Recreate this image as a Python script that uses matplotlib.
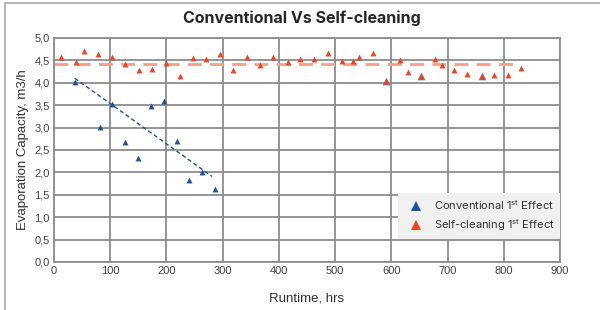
import numpy as np
import matplotlib.pyplot as plt
from matplotlib.patches import Rectangle
from matplotlib.lines import Line2D

# conventional 1st effect (runtime hrs, capacity m3/h)
conv_hrs = [37, 82, 104, 126, 149, 172, 195, 218, 241, 264, 286]
conv_cap = [4.01, 3.02, 3.53, 2.67, 2.31, 3.49, 3.59, 2.69, 1.84, 2.01, 1.62]
# trend line end points
conv_trend_hrs = [37, 281]
conv_trend_cap = [4.10, 1.91]

# self-cleaning 1st effect
sc_hrs = [13, 39, 54, 78, 103, 126, 151, 175, 199, 224, 247, 271, 295, 319,
          343, 367, 390, 416, 438, 463, 487, 512, 531, 543, 567, 591, 615,
          629, 653, 677, 691, 711, 735, 761, 782, 808, 831]
sc_cap = [4.58, 4.47, 4.70, 4.65, 4.58, 4.42, 4.29, 4.30, 4.45, 4.14, 4.55,
          4.52, 4.64, 4.29, 4.58, 4.40, 4.58, 4.46, 4.53, 4.52, 4.66, 4.49,
          4.48, 4.58, 4.67, 4.03, 4.50, 4.23, 4.14, 4.54, 4.40, 4.29, 4.20,
          4.14, 4.18, 4.18, 4.32]
sc_trend_hrs = [0, 823]
sc_trend_cap = [4.41, 4.41]
# points that sit on top of a grey marker in the original
sc_grey = [591, 653, 761]

x_ticks = list(range(0, 901, 100))
y_ticks = [0.0, 0.5, 1.0, 1.5, 2.0, 2.5, 3.0, 3.5, 4.0, 4.5, 5.0]

blue = '#21519c'
red = '#ea4325'
grid_c = '#8c8c8c'
txt_c = '#404040'

fig = plt.figure(figsize=(6, 3.1), dpi=100)
ax = fig.add_axes([0.09, 0.155, 0.8433, 0.7226])

# outer frame of the chart area
fig.patches.append(Rectangle((5 / 600, -0.1), 1.2, 1.1 - 3 / 310,
                             transform=fig.transFigure, fill=False,
                             edgecolor='#b0b0b0', linewidth=1.3))

ax.set_xlim(0, 900)
ax.set_ylim(0, 5)
ax.set_xticks(x_ticks)
ax.set_yticks(y_ticks)
ax.set_yticklabels([f"{v:.1f}".replace('.', ',') for v in y_ticks])
ax.grid(True, color=grid_c, linewidth=1.3)
ax.set_axisbelow(True)
for s in ax.spines.values():
    s.set_color(grid_c)
    s.set_linewidth(1.3)
ax.tick_params(length=0, pad=3, labelsize=8, labelcolor=txt_c)
for lab in ax.get_xticklabels() + ax.get_yticklabels():
    lab.set_family('Liberation Sans')

# trend lines
ax.plot(sc_trend_hrs, sc_trend_cap, color='#f2a08e',
        linewidth=2, dashes=(5, 3), zorder=2)
ax.plot(conv_trend_hrs, conv_trend_cap, color=blue, linewidth=1,
        dashes=(3, 2), zorder=2)

# markers
grey_idx = [sc_hrs.index(h) for h in sc_grey]
ax.scatter([sc_hrs[i] for i in grey_idx], [sc_cap[i] for i in grey_idx],
           marker='^', s=30, color='#707070', zorder=3, linewidths=0)
ax.scatter(sc_hrs, sc_cap, marker='^', s=18, color=red, zorder=4, linewidths=0)
ax.scatter(conv_hrs, conv_cap, marker='^', s=18, color=blue, zorder=4, linewidths=0)

ax.set_xlabel('Runtime, hrs', fontsize=9.5, family='Liberation Sans',
              color='#303030', labelpad=12)
ax.set_ylabel('Evaporation Capacity, m3/h', fontsize=9.5,
              family='Liberation Sans', color='#303030', labelpad=4)
fig.text(0.503, 0.94, 'Conventional Vs Self-cleaning', ha='center', va='center',
         fontsize=11.5, fontweight='bold', family='Inter', color='#262626')

handles = [Line2D([], [], linestyle='none', marker='^', markersize=6.5,
                  color=blue, markeredgewidth=0),
           Line2D([], [], linestyle='none', marker='^', markersize=6.5,
                  color=red, markeredgewidth=0)]
leg = ax.legend(handles,
                [r'Conventional 1$^{\mathregular{st}}$ Effect',
                 r'Self-cleaning 1$^{\mathregular{st}}$ Effect'],
                loc='lower right', bbox_to_anchor=(1.0, 0.103), frameon=True,
                fancybox=False, framealpha=1, facecolor='#f0f0f0',
                edgecolor='none', borderpad=0.5, labelspacing=0.5,
                handletextpad=0.5, borderaxespad=0, handlelength=2.2,
                prop={'family': 'Inter', 'size': 8})
for t in leg.get_texts():
    t.set_color('#303030')

fig.savefig('out.png', dpi=100)
